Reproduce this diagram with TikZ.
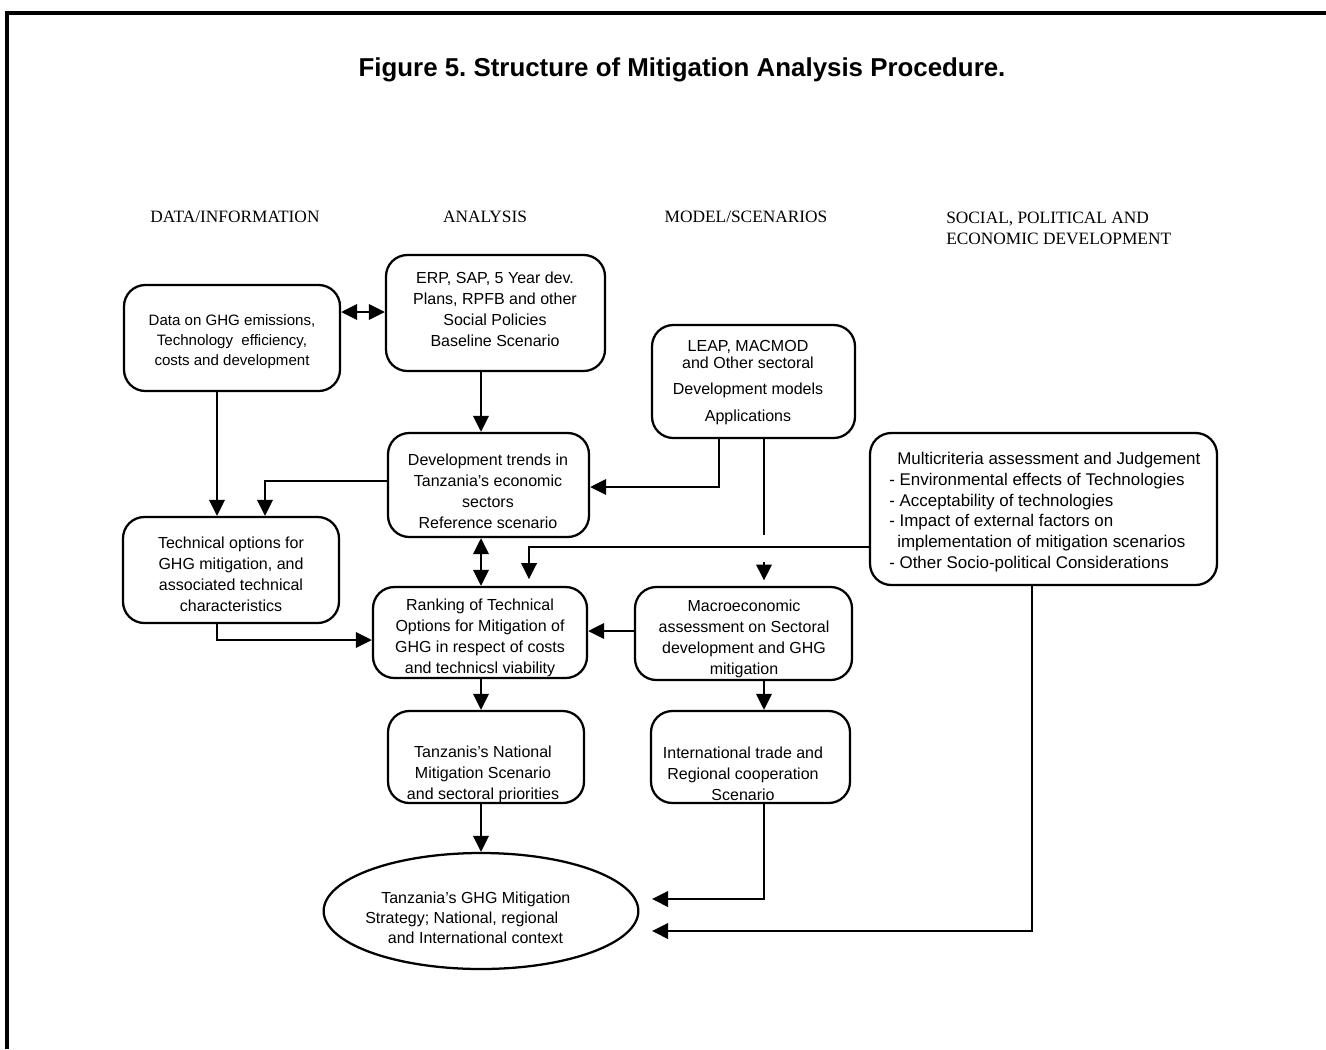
\documentclass[tikz,border=0pt]{standalone}
\usepackage{fontspec}
\setmainfont{Liberation Sans}
\newfontfamily\hdrfont{Liberation Serif}
\usetikzlibrary{arrows.meta,fit,shapes.geometric}
\tikzset{
  box/.style={draw, line width=1.7pt, rounded corners=16pt, inner sep=0pt},
  txt/.style={inner sep=0pt, align=center, font=\fontsize{12}{15.75}\selectfont},
  hdr/.style={inner sep=0pt, font=\hdrfont\fontsize{13}{15.75}\selectfont},
  arr/.style={line width=1.9pt, -{Triangle[length=12pt,width=11.5pt]}},
  dbl/.style={line width=1.9pt, {Triangle[length=12pt,width=11.5pt]}-{Triangle[length=12pt,width=11.5pt]}},
  ln/.style={line width=1.9pt}
}
\begin{document}
\frenchspacing
\begin{tikzpicture}[x=0.75pt,y=-0.75pt]
\useasboundingbox (0,0) rectangle (1326,1049);
\draw[line width=3pt] (7,1049) -- (7,13) -- (1326,13);

\node[inner sep=0pt, font=\bfseries\fontsize{19.4}{22}\selectfont] (title) at (682,70) {Figure 5. Structure of Mitigation Analysis Procedure.};

\node[hdr] (h1) at (235,217) {DATA/INFORMATION};
\node[hdr] (h2) at (485,217) {ANALYSIS};
\node[hdr] (h3) at (746,217) {MODEL/SCENARIOS};
\node[hdr, anchor=west, align=left] (h4) at (946,228) {SOCIAL, POLITICAL AND\\ECONOMIC DEVELOPMENT};

% boxes
\node[box, fit={(124,285) (340,391)}] (data) {};
\node[box, fit={(386,255) (605,371)}] (erp) {};
\node[box, fit={(652,325) (855,438)}] (leap) {};
\node[box, fit={(388,433) (589,537)}] (dev) {};
\node[box, fit={(870,433) (1217,585)}] (multi) {};
\node[box, fit={(123,517) (339,623)}] (tech) {};
\node[box, fit={(373,587) (587,678)}] (rank) {};
\node[box, fit={(635,587) (852,680)}] (macro) {};
\node[box, fit={(388,711) (584,803)}] (nat) {};
\node[box, fit={(651,711) (850,803)}] (intl) {};
\node[draw, line width=1.7pt, ellipse, inner sep=0pt, minimum width=236pt, minimum height=87pt] (ell) at (481,911) {};

% texts
\node[txt, font=\fontsize{11.3}{15}\selectfont] (dataT) at (232,342) {Data on GHG emissions,\\Technology\ \ efficiency,\\costs and development};
\node[txt] (erpT) at (495,309) {ERP, SAP, 5 Year dev.\\Plans, RPFB and other\\Social Policies\\Baseline Scenario};
\node[txt] (leapT) at (748,383) {LEAP, MACMOD\\[-3pt]and Other sectoral\\[3.75pt]Development models\\[4.5pt]Applications};
\node[txt] (devT) at (488,491) {Development trends in\\Tanzania's economic\\sectors\\Reference scenario};
\node[txt, align=left, anchor=west, font=\fontsize{12.7}{15.5}\selectfont] (multiT) at (889,512) {\hspace{6pt}Multicriteria assessment and Judgement\\- Environmental effects of Technologies\\- Acceptability of technologies\\- Impact of external factors on\\\hspace{6pt}implementation of mitigation scenarios\\- Other Socio-political Considerations};
\node[txt] (techT) at (231,574) {Technical options for\\GHG mitigation, and\\associated technical\\characteristics};
\node[txt] (rankT) at (480,638) {Ranking of Technical\\Options for Mitigation of\\GHG in respect of costs\\and technicsl viability};
\node[txt] (macroT) at (744,639) {Macroeconomic\\assessment on Sectoral\\development and GHG\\mitigation};
\node[txt] (natT) at (483,774) {Tanzanis's National\\Mitigation Scenario\\and sectoral priorities};
\node[txt] (intlT) at (743,774) {International trade and\\Regional cooperation\\Scenario};
\node[txt, align=left, anchor=west, font=\fontsize{12}{15}\selectfont] (ellT) at (365,918) {\hspace{12pt}Tanzania's GHG Mitigation\\Strategy; National, regional\\\hspace{17pt}and International context};

% free-end coordinates
\coordinate (gapA) at (764,535);
\coordinate (gapB) at (764,562);
\coordinate (endA) at (652,899);
\coordinate (endB) at (652,931);

% connectors
\draw[dbl] (data.east |- 0,312) -- (erp.west |- 0,312);
\draw[arr] (erp.south -| 481,0) -- (dev.north -| 481,0);
\draw[arr] (data.south -| 217,0) -- (tech.north -| 217,0);
\draw[arr] (dev.west |- 0,481) -| (tech.north -| 265,0);
\draw[arr] (leap.south -| 719,0) |- (dev.east |- 0,487);
\draw[ln] (leap.south -| 764,0) -- (gapA);
\draw[arr, shorten >=4pt] (gapB) -- (macro.north -| 764,0);
\draw[arr, shorten >=5pt] (multi.west |- 0,547) -| (rank.north -| 529,0);
\draw[dbl] (dev.south -| 481,0) -- (rank.north -| 481,0);
\draw[arr] (tech.south -| 217,0) |- (rank.west |- 0,640);
\draw[arr] (macro.west |- 0,631) -- (rank.east |- 0,631);
\draw[arr] (rank.south -| 481,0) -- (nat.north -| 481,0);
\draw[arr] (macro.south -| 764,0) -- (intl.north -| 764,0);
\draw[arr] (nat.south -| 481,0) -- (ell.north -| 481,0);
\draw[arr] (intl.south -| 764,0) |- (endA);
\draw[arr] (multi.south -| 1032,0) |- (endB);
\end{tikzpicture}
\end{document}
